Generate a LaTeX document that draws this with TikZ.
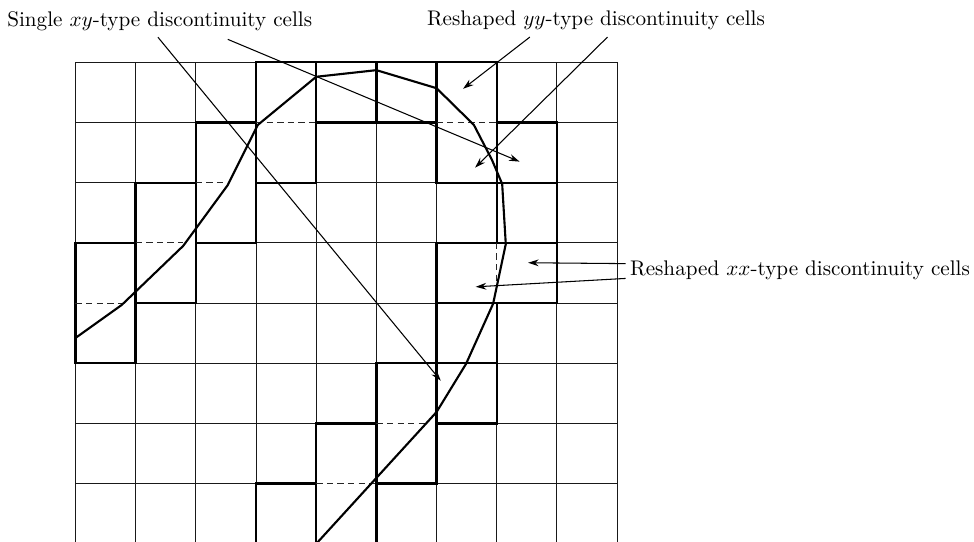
\documentclass[tikz,border=0pt]{standalone}
\usepackage{tikz}
\usetikzlibrary{arrows.meta,positioning,calc}
\tikzset{
  gridline/.style={draw=black!90,line width=0.45pt},
  cellbox/.style={draw=black,fill=white,line width=1.1pt},
  splitline/.style={draw=black!85,dashed,dash pattern=on 3pt off 2pt,line width=0.5pt},
  curveline/.style={draw=black,line width=1pt,line join=round},
  arrow/.style={-{Stealth[length=5pt,width=3.2pt]},line width=0.5pt},
  labeltext/.style={font=\normalsize,inner sep=2pt},
}

\begin{document}
\begin{tikzpicture}
  \useasboundingbox (-1.254,0.033) rectangle (14.93,9.036);
  % mesh
  \draw[gridline] (0,-1) grid (9,8);
  % discontinuity cells
  \draw[cellbox] (0,3) rectangle (1,5);
  \draw[cellbox] (1,4) rectangle (2,6);
  \draw[cellbox] (2,5) rectangle (3,7);
  \draw[cellbox] (3,6) rectangle (4,8);
  \draw[cellbox] (4,7) rectangle (5,8);
  \draw[cellbox] (5,7) rectangle (6,8);
  \draw[cellbox] (6,6) rectangle (7,8);
  \draw[cellbox] (7,6) rectangle (8,7);
  \draw[cellbox] (7,5) rectangle (8,6);
  \draw[cellbox] (6,4) rectangle (8,5);
  \draw[cellbox] (6,3) rectangle (7,4);
  \draw[cellbox] (6,2) rectangle (7,3);
  \draw[cellbox] (5,1) rectangle (6,3);
  \draw[cellbox] (4,-1) rectangle (5,2);
  \draw[cellbox] (3,-1) rectangle (4,1);
  % merged edges
  \draw[splitline] (0,4) -- (0.77,4);
  \draw[splitline] (1,5) -- (1.79,5);
  \draw[splitline] (2,6) -- (2.53,6);
  \draw[splitline] (3,7) -- (4,7);
  \draw[splitline] (6,7) -- (7,7);
  \draw[splitline] (7,5) -- (7,4.28);
  \draw[splitline] (5,2) -- (5.83,2);
  \draw[splitline] (4,1) -- (5,1);
  % interface
  \draw[curveline] (0,3.42) -- (0.77,3.97) -- (1.79,4.95) -- (2.53,5.96)
    -- (3.03,6.96) -- (4.0,7.76) -- (5.0,7.87) -- (6.0,7.57) -- (6.62,6.96)
    -- (6.92,6.38) -- (7.09,5.98) -- (7.15,4.98) -- (6.94,3.99) -- (6.49,2.99)
    -- (6.0,2.19) -- (4.0,0) -- (3.6,-0.44);
  % labels
  \node[labeltext] (xy) at (1.40,8.69) {Single $xy$-type discontinuity cells};
  \node[labeltext] (yy) at (8.65,8.69) {Reshaped $yy$-type discontinuity cells};
  \node[labeltext] (xx) at (12.04,4.55) {Reshaped $xx$-type discontinuity cells};
  \coordinate (xyA) at (6.07,2.71);
  \coordinate (xyB) at (7.38,6.35);
  \coordinate (yyA) at (6.44,7.56);
  \coordinate (yyB) at (6.64,6.25);
  \coordinate (xxA) at (7.52,4.67);
  \coordinate (xxB) at (6.65,4.27);
  \draw[arrow] ([xshift=-0.03cm,yshift=-1pt]xy.south) -- (xyA);
  \draw[arrow] ([xshift=1.13cm,yshift=-2pt]xy.south) -- (xyB);
  \draw[arrow] ([xshift=-1.10cm,yshift=-1pt]yy.south) -- (yyA);
  \draw[arrow] ([xshift=0.19cm,yshift=-1pt]yy.south) -- (yyB);
  \draw[arrow] ([yshift=3pt]xx.west) -- (xxA);
  \draw[arrow] ([yshift=-4pt]xx.west) -- (xxB);
\end{tikzpicture}
\end{document}
